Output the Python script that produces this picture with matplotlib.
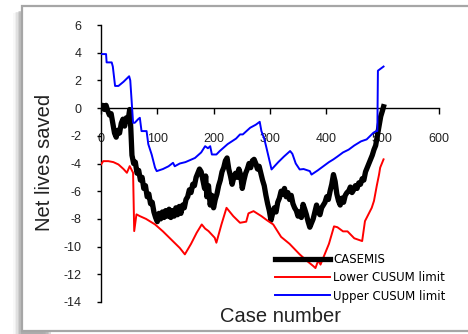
import matplotlib
matplotlib.use("Agg")
import matplotlib.pyplot as plt
from matplotlib.patches import Rectangle

# CASEMIS curve (net lives saved), every ~3 cases
case_x = [0, 3, 6, 9, 12, 15, 18, 21, 24, 27, 30, 33, 36, 39, 42, 45, 48, 51, 53, 55, 58, 61,
          64, 67, 70, 73, 76, 79, 82, 85, 88, 91, 94, 97, 100, 103, 106, 109, 112, 115, 118,
          121, 124, 127, 130, 133, 136, 139, 142, 145, 148, 151, 154, 157, 160, 163, 166, 169,
          172, 175, 178, 181, 184, 186, 188, 191, 194, 197, 200, 203, 206, 209, 212, 215, 218,
          221, 224, 227, 230, 233, 236, 239, 242, 245, 248, 251, 254, 257, 260, 263, 266, 269,
          272, 275, 278, 281, 284, 287, 290, 293, 296, 299, 302, 305, 308, 311, 314, 317, 320,
          323, 326, 329, 332, 335, 338, 341, 344, 347, 350, 353, 356, 359, 362, 365, 368, 371,
          374, 377, 380, 383, 386, 389, 392, 395, 398, 401, 404, 407, 410, 413, 416, 419, 422,
          425, 428, 431, 434, 437, 440, 443, 446, 449, 452, 455, 458, 461, 464, 467, 470, 473,
          476, 479, 482, 485, 488, 491, 494, 497, 500, 502]
casemis = [0.0, 0.2, -0.1, 0.2, -0.2, -0.5, -0.4, -1.1, -1.8, -2.1, -1.6, -1.8, -1.1, -0.8,
           -1.3, -0.7, -0.9, -0.1, -1.5, -3.4, -4.0, -3.9, -4.7, -4.5, -5.2, -5.0, -5.8, -5.6,
           -6.4, -6.2, -6.9, -6.8, -7.5, -7.9, -8.2, -7.6, -8.0, -7.5, -7.9, -7.4, -7.8, -7.3,
           -7.9, -7.4, -7.8, -7.2, -7.7, -7.1, -7.6, -7.0, -7.2, -6.6, -6.4, -5.9, -6.1, -5.5,
           -5.6, -5.0, -4.7, -4.4, -4.6, -5.2, -5.8, -4.9, -6.4, -5.6, -7.0, -6.3, -7.2, -6.6,
           -6.2, -5.6, -5.2, -4.6, -4.3, -3.8, -3.6, -4.4, -4.9, -5.5, -5.0, -4.7, -5.0, -4.4,
           -4.8, -5.8, -5.2, -4.7, -4.4, -4.0, -4.3, -3.8, -3.7, -4.0, -4.4, -4.2, -4.7, -5.2,
           -5.6, -6.3, -6.9, -7.4, -8.1, -7.6, -7.2, -7.5, -6.8, -6.5, -6.0, -6.2, -5.8, -6.4,
           -6.1, -6.6, -6.3, -6.9, -7.2, -7.4, -7.8, -7.5, -7.9, -6.95, -7.3, -7.7, -8.2, -8.6,
           -8.3, -8.0, -7.5, -7.0, -7.5, -7.7, -7.2, -7.0, -6.8, -6.4, -6.6, -6.0, -5.5, -4.8,
           -5.3, -6.2, -6.7, -7.0, -6.5, -6.8, -6.3, -6.1, -6.0, -5.7, -6.1, -5.9, -5.6, -5.8,
           -5.4, -5.5, -5.1, -5.2, -4.6, -4.3, -4.0, -3.7, -3.4, -3.0, -2.7, -2.0, -1.3, -0.6,
           -0.2, 0.1]

# upper CUSUM limit
upper_x = [0, 9, 10, 19, 21, 25, 31, 40, 50, 52, 57, 60, 66, 69, 72, 81, 84, 90, 96, 99, 110,
           120, 128, 131, 140, 150, 167, 178, 185, 190, 194, 197, 205, 211, 225, 240, 247, 252,
           265, 275, 282, 285, 290, 294, 303, 315, 325, 336, 340, 346, 353, 360, 371, 374, 385,
           395, 405, 413, 420, 430, 440, 450, 462, 472, 484, 489, 491, 492, 502]
upper = [3.9, 3.9, 3.3, 3.3, 3.0, 1.6, 1.6, 1.9, 2.3, 2.0, -1.06, -1.06, -0.8, -0.7, -1.66,
         -1.66, -2.6, -3.35, -4.3, -4.55, -4.4, -4.2, -3.95, -4.2, -4.0, -3.9, -3.6, -3.2, -2.75,
         -2.9, -2.75, -3.35, -3.35, -3.1, -2.6, -2.2, -1.9, -1.9, -1.42, -1.2, -0.99, -1.66, -2.2,
         -2.87, -4.43, -3.9, -3.5, -3.1, -3.3, -4.0, -4.43, -4.4, -4.55, -4.8, -4.5, -4.2, -3.9,
         -3.7, -3.5, -3.2, -3.0, -2.7, -2.4, -2.26, -1.78, -1.66, -1.66, 2.7, 3.0]

# lower CUSUM limit
lower_x = [0, 4, 13, 22, 31, 40, 46, 51, 57, 59, 63, 69, 80, 96, 110, 125, 140, 149, 160, 170,
           179, 185, 191, 202, 205, 214, 223, 235, 247, 258, 262, 271, 285, 295, 306, 320, 335,
           353, 365, 377, 381, 386, 390, 396, 405, 414, 420, 430, 438, 450, 464, 469, 476, 481,
           485, 490, 494, 496, 502]
lower = [-4.07, -3.83, -3.83, -3.9, -4.07, -4.4, -4.67, -4.19, -4.67, -8.88, -7.67, -7.8, -8.0,
         -8.4, -8.9, -9.5, -10.1, -10.56, -9.8, -9.0, -8.4, -8.7, -8.88, -9.36, -9.72, -8.4, -7.2,
         -7.8, -8.28, -8.2, -7.6, -7.44, -7.8, -8.1, -8.4, -9.3, -9.8, -10.56, -11.0, -11.4,
         -11.55, -11.0, -11.3, -10.7, -9.8, -8.54, -8.6, -8.9, -8.9, -9.4, -9.6, -8.16, -7.6,
         -7.2, -6.7, -5.6, -4.8, -4.3, -3.7]

x_ticks = [0, 100, 200, 300, 400, 500, 600]
y_ticks = [6, 4, 2, 0, -2, -4, -6, -8, -10, -12, -14]

W, H = 468, 334
fig = plt.figure(figsize=(W / 100, H / 100), dpi=100)

# frame with soft shadow (Excel-like chart border)
for i, a in enumerate([0.05, 0.08, 0.12, 0.17, 0.22, 0.28]):
    off = 9 - i * 1.5
    fig.patches.append(Rectangle(((22 - off) / W, 0), 30 / W, (H - 10 - off * 0.3) / H,
                                 transform=fig.transFigure, facecolor="#808080", alpha=a,
                                 edgecolor="none", zorder=0))
fig.patches.append(Rectangle((22 / W, 3 / H), 460 / W, 325 / H, transform=fig.transFigure,
                             facecolor="white", edgecolor="#a6a6a6", linewidth=1.6, zorder=1))

ax = fig.add_axes([101 / W, 1 - 302 / H, 337.7 / W, 277 / H])
ax.set_facecolor("none")
ax.set_zorder(2)

ax.plot(case_x, casemis, color="black", lw=3.8, solid_joinstyle="round", label="CASEMIS", zorder=3)
ax.plot(lower_x, lower, color="#ff0000", lw=1.4, label="Lower CUSUM limit", zorder=4)
ax.plot(upper_x, upper, color="#0000ff", lw=1.4, label="Upper CUSUM limit", zorder=4)

ax.set_xlim(0, 600)
ax.set_ylim(-14, 6)
ax.spines["bottom"].set_position(("data", 0))
ax.spines["top"].set_visible(False)
ax.spines["right"].set_visible(False)
for s in ("bottom", "left"):
    ax.spines[s].set_linewidth(1.0)
    ax.spines[s].set_zorder(2.5)

ax.set_xticks(x_ticks)
ax.set_yticks(y_ticks)
ax.set_xticklabels([str(v) for v in x_ticks], family="Liberation Sans", fontsize=9, color="#222222")
ax.set_yticklabels([str(v) for v in y_ticks], family="Liberation Sans", fontsize=9, color="#222222")
ax.tick_params(axis="x", direction="out", length=4, width=1, pad=14)
ax.tick_params(axis="y", direction="out", length=3, width=1, pad=11)

fig.text(45 / W, 1 - 162 / H, "Net lives saved", rotation=90, ha="center", va="center",
         family="Liberation Sans", fontsize=14.5, color="#222222")
fig.text(280 / W, 1 - 322 / H, "Case number", ha="center", va="baseline",
         family="Liberation Sans", fontsize=14.5, color="#222222")

leg = ax.legend(loc="upper left", bbox_to_anchor=(275 / W, 1 - 253 / H),
                bbox_transform=fig.transFigure, frameon=False,
                handlelength=4.66, handletextpad=0.25, labelspacing=0.45,
                borderpad=0, borderaxespad=0, prop={"family": "DejaVu Sans", "size": 8.5})
leg.set_zorder(5)

fig.savefig("out.png", dpi=100)
